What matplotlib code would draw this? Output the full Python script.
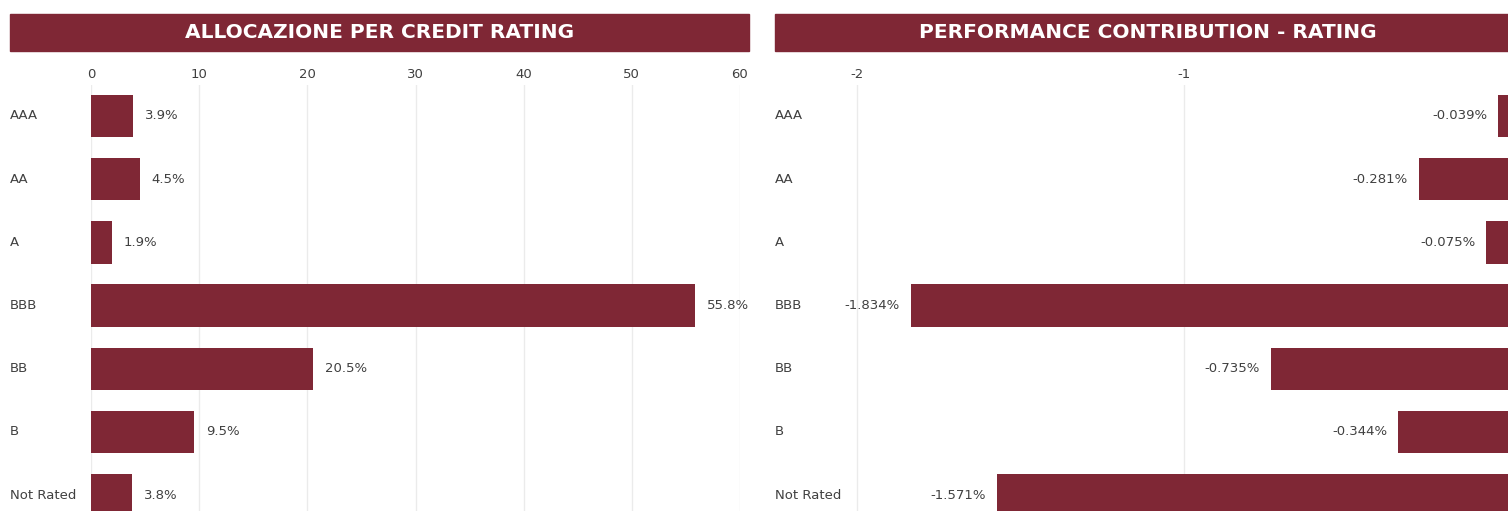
import matplotlib.pyplot as plt
from matplotlib.patches import Rectangle
import matplotlib.transforms as mtransforms

plt.rcParams['axes.unicode_minus'] = False

ratings = ['AAA', 'AA', 'A', 'BBB', 'BB', 'B', 'Not Rated']
allocazione = [3.9, 4.5, 1.9, 55.8, 20.5, 9.5, 3.8]
contribution = [-0.039, -0.281, -0.075, -1.834, -0.735, -0.344, -1.571]
alloc_ticks = [0, 10, 20, 30, 40, 50, 60]
contr_ticks = [-2, -1, 0]

bar_color = '#7F2735'
text_color = '#404040'
grid_color = '#EBEBEB'

W, H = 1508, 511
fig = plt.figure(figsize=(W / 100, H / 100), dpi=100)


def px(x0, y0, x1, y1):
    # pixel box -> figure fraction [left, bottom, width, height]
    return [x0 / W, 1 - y1 / H, (x1 - x0) / W, (y1 - y0) / H]


def title_band(x0, x1, text):
    fig.patches.append(Rectangle((x0 / W, 1 - 51 / H), (x1 - x0) / W, 37 / H,
                                 transform=fig.transFigure, color=bar_color))
    fig.text((x0 + x1) / 2 / W, 1 - 33 / H, text, color='white', fontsize=14.5,
             fontweight='bold', ha='center', va='center')


def setup(ax, ticks, label_x):
    ax.set_ylim(6.25, -0.49)
    ax.set_xticks(ticks)
    ax.xaxis.tick_top()
    ax.tick_params(axis='x', length=0, pad=3, labelsize=9.5, labelcolor=text_color)
    ax.set_yticks([])
    for s in ax.spines.values():
        s.set_visible(False)
    ax.grid(axis='x', color=grid_color, linewidth=1)
    ax.set_axisbelow(True)
    tr = mtransforms.blended_transform_factory(fig.transFigure, ax.transData)
    for i, r in enumerate(ratings):
        ax.text(label_x / W, i, r, transform=tr, ha='left', va='center',
                fontsize=9.5, color=text_color, clip_on=False)


# left chart
title_band(10, 749, 'ALLOCAZIONE PER CREDIT RATING')
ax1 = fig.add_axes(px(91, 85, 740, 511))
ax1.set_xlim(0, 60)
ax1.barh(range(len(ratings)), allocazione, height=0.67, color=bar_color, zorder=2)
setup(ax1, alloc_ticks, 10)
for i, v in enumerate(allocazione):
    ax1.annotate(f'{v:.1f}%', (v, i), xytext=(12, 0), textcoords='offset pixels',
                 ha='left', va='center', fontsize=9.5, color=text_color)

# right chart
title_band(775, 1520, 'PERFORMANCE CONTRIBUTION - RATING')
ax2 = fig.add_axes(px(824, 85, 1511, 511))
ax2.set_xlim(-2.1, 0)
ax2.barh(range(len(ratings)), contribution, height=0.67, color=bar_color, zorder=2)
setup(ax2, contr_ticks, 775)
for i, v in enumerate(contribution):
    ax2.annotate(f'{v:.3f}%', (v, i), xytext=(-11, 0), textcoords='offset pixels',
                 ha='right', va='center', fontsize=9.5, color=text_color)

fig.savefig('out.png', dpi=100)
